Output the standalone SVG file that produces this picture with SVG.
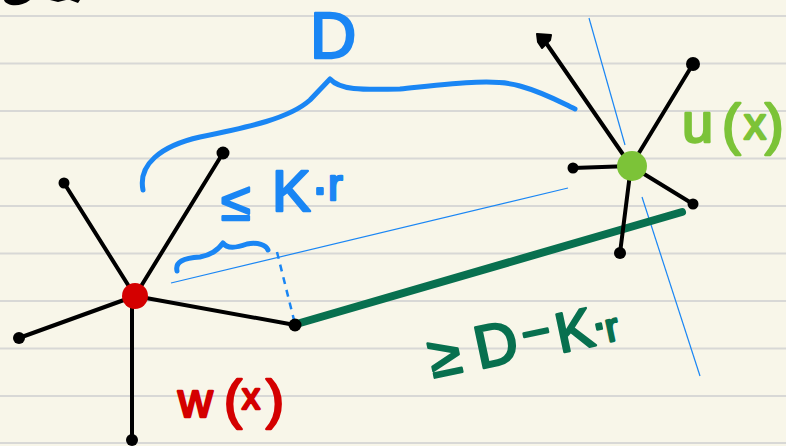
<svg xmlns="http://www.w3.org/2000/svg" width="786" height="446" viewBox="0 0 786 446">
<style>
.rule{stroke:#d8d8d6;stroke-width:2}
.edge{stroke:#000;stroke-width:4;stroke-linecap:round;fill:none}
.dot{fill:#000}
.thin{stroke:#1a86f4;stroke-width:1.2;fill:none}
.brace{stroke:#1a86f4;stroke-width:5;fill:none;stroke-linecap:round;stroke-linejoin:round}
.hand{font-family:"Liberation Sans","DejaVu Sans",sans-serif;font-weight:normal;stroke-linejoin:round;stroke-linecap:round}
.blue{fill:#1a86f4;stroke:#1a86f4;stroke-width:2.5}
.lime{fill:#7cc338;stroke:#7cc338;stroke-width:2.5}
.red{fill:#d40000;stroke:#d40000;stroke-width:2.5}
.dg{fill:#08704f;stroke:#08704f;stroke-width:2.5}
</style>
<rect width="786" height="446" fill="#f8f6e9"/>
<g id="paper">
<line class="rule" x1="0" y1="16" x2="786" y2="16"/>
<line class="rule" x1="0" y1="63.5" x2="786" y2="63.5"/>
<line class="rule" x1="0" y1="111" x2="786" y2="111"/>
<line class="rule" x1="0" y1="158.5" x2="786" y2="158.5"/>
<line class="rule" x1="0" y1="206" x2="786" y2="206"/>
<line class="rule" x1="0" y1="253.5" x2="786" y2="253.5"/>
<line class="rule" x1="0" y1="301" x2="786" y2="301"/>
<line class="rule" x1="0" y1="348.5" x2="786" y2="348.5"/>
<line class="rule" x1="0" y1="396" x2="786" y2="396"/>
<line class="rule" x1="0" y1="443" x2="786" y2="443"/>
<path d="M4,0 C6,6 20,8 30,0 Z" fill="#000"/>
<path d="M50,0 L58,2 L66,0 Z M70,0 L78,3 L80,0 Z" fill="#000"/>
</g>
<g id="connectors">
<line class="thin" x1="171" y1="283" x2="568" y2="188"/>
<line class="thin" x1="589" y1="18" x2="625" y2="145"/>
<line class="thin" x1="642" y1="197" x2="700" y2="376"/>
<line x1="277" y1="252" x2="294" y2="320" stroke="#1a86f4" stroke-width="2.5" stroke-dasharray="7,6"/>
<path class="brace" d="M143,190 C138,165 160,146 200,137 C250,127 290,118 310,100 L330,79 C340,90 360,90 400,89 C450,84 495,78 520,86 C545,93 560,102 575,109"/>
<path class="brace" d="M177,271 C175,262 183,258 200,257 C212,255 218,250 223,243 C227,249 236,248 247,244 C258,242 266,245 268,250" stroke-width="4"/>
<line x1="300" y1="323" x2="682" y2="212" stroke="#08704f" stroke-width="8" stroke-linecap="round"/>
<line class="edge" x1="135" y1="296" x2="64" y2="183"/>
<line class="edge" x1="135" y1="296" x2="223" y2="153"/>
<line class="edge" x1="135" y1="296" x2="19" y2="338"/>
<line class="edge" x1="132" y1="296" x2="132" y2="440"/>
<line class="edge" x1="135" y1="296" x2="295" y2="325"/>
<line class="edge" x1="631" y1="166" x2="544" y2="40" stroke-width="3.5"/>
<line class="edge" x1="631" y1="166" x2="693" y2="64" stroke-width="3.5"/>
<line class="edge" x1="631" y1="166" x2="573" y2="168" stroke-width="3.5"/>
<line class="edge" x1="631" y1="166" x2="693" y2="204" stroke-width="3.5"/>
<line class="edge" x1="631" y1="166" x2="620" y2="253" stroke-width="3.5"/>
</g>
<g id="w-node">
<circle cx="135" cy="296" r="13" fill="#d40000"/>
<text class="hand red" font-size="54"><tspan x="178" y="417" font-size="48">w</tspan><tspan x="224" y="418">(</tspan><tspan x="242" y="409" font-size="36">x</tspan><tspan x="266" y="418">)</tspan></text>
</g>
<g id="w-leaves">
<circle class="dot" cx="64" cy="183" r="5.5"/>
<circle class="dot" cx="223" cy="153" r="6.5"/>
<circle class="dot" cx="19" cy="338" r="6"/>
<circle class="dot" cx="132" cy="440" r="6"/>
<circle class="dot" cx="295" cy="325" r="6.5"/>
</g>
<g id="u-node">
<circle cx="632" cy="166" r="15" fill="#7cc338"/>
<text class="hand lime" font-size="56"><tspan x="682" y="142">u</tspan><tspan x="722" y="143">(</tspan><tspan x="744" y="139" font-size="44">x</tspan><tspan x="765" y="143">)</tspan></text>
</g>
<g id="u-leaves">
<polygon points="537,34 551,35 550,40 542,48 538,42" fill="#000" stroke="#000" stroke-width="2" stroke-linejoin="round"/>
<circle class="dot" cx="693" cy="64" r="7"/>
<circle class="dot" cx="573" cy="168" r="5.5"/>
<circle class="dot" cx="693" cy="204" r="5.5"/>
<circle class="dot" cx="620" cy="253" r="6"/>
</g>
<g id="labels">
<text class="hand blue" x="310" y="58" font-size="64">D</text>
<text class="hand blue" font-size="54"><tspan x="221" y="220">≤</tspan><tspan x="272" y="211" font-size="58">K</tspan><tspan x="311" y="206">·</tspan><tspan x="328" y="200" font-size="44">r</tspan></text>
<text class="hand dg" font-size="58" rotate="-12"><tspan x="433" y="378">≥</tspan><tspan x="479" y="369" font-size="60">D</tspan><tspan x="525" y="352" font-size="50">−</tspan><tspan x="560" y="353" font-size="56">K</tspan><tspan x="594" y="341" font-size="48">·</tspan><tspan x="608" y="342" font-size="40">r</tspan></text>
</g>
</svg>
